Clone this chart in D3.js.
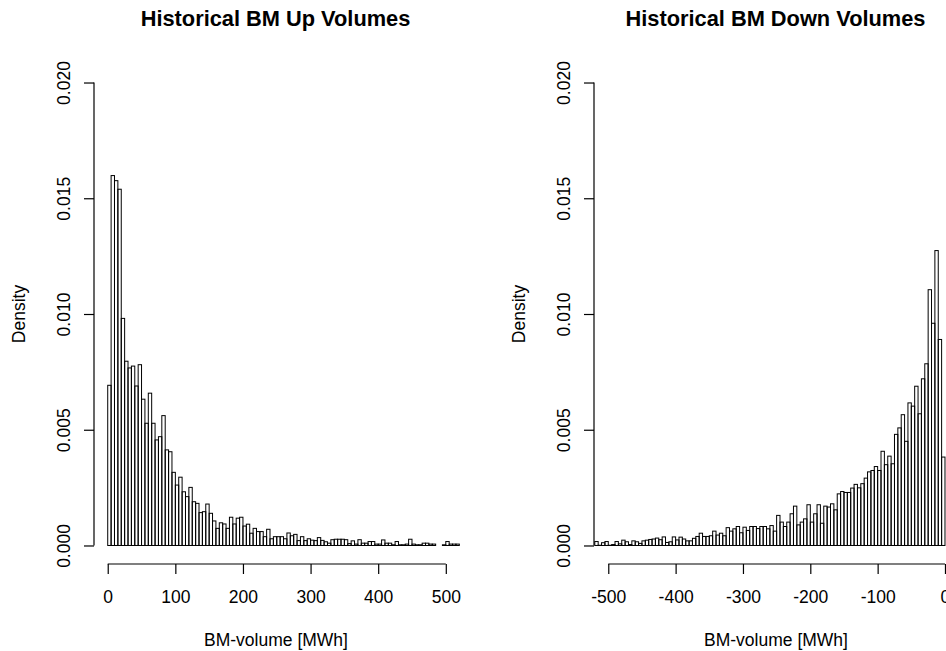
<!DOCTYPE html>
<html>
<head>
<meta charset="utf-8">
<script src="https://cdn.jsdelivr.net/npm/d3@7"></script>
<style>
  html, body { margin: 0; padding: 0; background: #fff; }
  svg { display: block; }
  text { font-family: "Liberation Sans", Arial, Helvetica, sans-serif; fill: #000; }
</style>
</head>
<body>
<svg id="chart" width="946" height="651"></svg>
<script>
// ---------------- data ----------------
const binWidth = 5;

// Up volumes: bins starting at 0 MWh, width 5
const upStart = 0;
const upDensity = [
  0.00692, 0.01598, 0.01576, 0.01539, 0.00981, 0.00796, 0.00767, 0.00775,
  0.00689, 0.00781, 0.00632, 0.00528, 0.00658, 0.00528, 0.00456, 0.00470,
  0.00561, 0.00413, 0.00405, 0.00316, 0.00261, 0.00295, 0.00232, 0.00211,
  0.00251, 0.00189, 0.00182, 0.00142, 0.00146, 0.00179, 0.00139, 0.00106,
  0.00074, 0.00098, 0.00093, 0.00074, 0.00122, 0.00093, 0.00118, 0.00122,
  0.00084, 0.00092, 0.00053, 0.00074, 0.00060, 0.00060, 0.00038, 0.00070,
  0.00029, 0.00038, 0.00038, 0.00038, 0.00029, 0.00054, 0.00042, 0.00048,
  0.00021, 0.00038, 0.00021, 0.00029, 0.00023, 0.00021, 0.00034, 0.00022,
  0.00016, 0.00010, 0.00025, 0.00027, 0.00027, 0.00027, 0.00025, 0.00008,
  0.00020, 0.00006, 0.00025, 0.00010, 0.00010, 0.00017, 0.00017, 0.00006,
  0.00006, 0.00024, 0.00010, 0.00010, 0.00003, 0.00017, 0.00003, 0.00003,
  0.00006, 0.00027, 0.00006, 0.00003, 0.00003, 0.00010, 0.00010, 0.00006,
  0.00006, 0.00000, 0.00000, 0.00003, 0.00017, 0.00006, 0.00006, 0.00006
];

// Down volumes: bins starting at -520 MWh, width 5
const downStart = -520;
const downDensity = [
  0.00017, 0.00001, 0.00012, 0.00017, 0.00001, 0.00004, 0.00017, 0.00007,
  0.00023, 0.00016, 0.00004, 0.00020, 0.00016, 0.00009, 0.00020, 0.00023,
  0.00026, 0.00028, 0.00032, 0.00025, 0.00037, 0.00013, 0.00016, 0.00037,
  0.00024, 0.00036, 0.00028, 0.00020, 0.00020, 0.00031, 0.00039, 0.00053,
  0.00039, 0.00039, 0.00042, 0.00062, 0.00045, 0.00053, 0.00042, 0.00077,
  0.00062, 0.00072, 0.00082, 0.00055, 0.00079, 0.00065, 0.00082, 0.00082,
  0.00073,
  0.00082, 0.00082, 0.00072, 0.00086, 0.00062, 0.00130, 0.00101, 0.00082,
  0.00101, 0.00137, 0.00170, 0.00089, 0.00101, 0.00115, 0.00176, 0.00101,
  0.00137, 0.00176, 0.00096, 0.00170, 0.00166, 0.00180, 0.00154, 0.00223,
  0.00233, 0.00229, 0.00229, 0.00248, 0.00264, 0.00249, 0.00267, 0.00291,
  0.00318, 0.00324, 0.00341, 0.00324, 0.00407, 0.00349, 0.00386, 0.00353,
  0.00480, 0.00508, 0.00565, 0.00450, 0.00616, 0.00602, 0.00688, 0.00569,
  0.00720, 0.00785, 0.01105, 0.00960, 0.01274, 0.00890, 0.00382
];

const yTicks = [0, 0.005, 0.010, 0.015, 0.020];
const upXTicks = [0, 100, 200, 300, 400, 500];
const downXTicks = [-500, -400, -300, -200, -100, 0];

const titles = ["Historical BM Up Volumes", "Historical BM Down Volumes"];
const xLabel = "BM-volume [MWh]";
const yLabel = "Density";

// ---------------- layout ----------------
const svg = d3.select("#chart");
svg.append("rect").attr("width", 946).attr("height", 651).attr("fill", "#fff");

const plotTop = 64, plotBottom = 564, plotW = 366;
const axisFont = 17.5, titleFont = 21.8;

const panels = [
  { left: 94,  start: upStart,   dens: upDensity,   xDomain: [-20.3, 521.0], xTicks: upXTicks,   title: titles[0] },
  { left: 594, start: downStart, dens: downDensity, xDomain: [-521.2, 22.3], xTicks: downXTicks, title: titles[1] }
];

const y = d3.scaleLinear().domain([-0.0008, 0.0208]).range([plotBottom, plotTop]);

panels.forEach((p, pi) => {
  const x = d3.scaleLinear().domain(p.xDomain).range([p.left, p.left + plotW]);
  const g = svg.append("g");

  const clipId = "clip" + pi;
  svg.append("clipPath").attr("id", clipId)
    .append("rect").attr("x", p.left).attr("y", plotTop)
    .attr("width", plotW).attr("height", plotBottom - plotTop);

  const bins = p.dens.map((d, i) => ({ x0: p.start + i * binWidth, x1: p.start + (i + 1) * binWidth, d }));

  g.append("g").attr("clip-path", `url(#${clipId})`)
    .selectAll("rect").data(bins).enter().append("rect")
    .attr("x", b => x(b.x0))
    .attr("width", b => x(b.x1) - x(b.x0))
    .attr("y", b => y(b.d))
    .attr("height", b => y(0) - y(b.d))
    .attr("fill", "none")
    .attr("stroke", "#000")
    .attr("stroke-width", 1);

  // x axis
  const xAxis = d3.axisBottom(x).tickValues(p.xTicks).tickSize(10).tickPadding(16.6)
    .tickFormat(d3.format("d"));
  const gx = g.append("g").attr("transform", `translate(0,${plotBottom})`).call(xAxis);
  gx.select(".domain").remove();
  gx.append("line")
    .attr("x1", x(p.xTicks[0])).attr("x2", x(p.xTicks[p.xTicks.length - 1]))
    .attr("y1", 0).attr("y2", 0).attr("stroke", "#000").attr("stroke-width", 1.2);
  gx.selectAll(".tick line").attr("stroke", "#000").attr("stroke-width", 1.2);
  gx.selectAll(".tick text").attr("font-size", axisFont).attr("font-family", null).attr("fill", "#000")
    .text(d => d3.format("d")(d).replace("−", "-"));

  // y axis
  const yAxis = d3.axisLeft(y).tickValues(yTicks).tickSize(10).tickFormat(d3.format(".3f"));
  const gy = g.append("g").attr("transform", `translate(${p.left},0)`).call(yAxis);
  gy.select(".domain").remove();
  gy.append("line")
    .attr("x1", 0).attr("x2", 0)
    .attr("y1", y(yTicks[0])).attr("y2", y(yTicks[yTicks.length - 1]))
    .attr("stroke", "#000").attr("stroke-width", 1.2);
  gy.selectAll(".tick line").attr("stroke", "#000").attr("stroke-width", 1.2);
  gy.selectAll(".tick text")
    .attr("font-size", axisFont).attr("font-family", null).attr("fill", "#000")
    .attr("x", 0).attr("dy", null).attr("y", -24)
    .attr("text-anchor", "middle")
    .attr("transform", "rotate(-90)");

  const cx = p.left + plotW / 2;
  // title
  g.append("text").attr("x", cx - 1.5).attr("y", 26)
    .attr("text-anchor", "middle").attr("font-size", titleFont).attr("font-weight", "bold")
    .text(p.title);
  // x label
  g.append("text").attr("x", cx - 1).attr("y", 646)
    .attr("text-anchor", "middle").attr("font-size", axisFont)
    .text(xLabel);
  // y label
  g.append("text")
    .attr("transform", `translate(${p.left - 69.5},${(plotTop + plotBottom) / 2}) rotate(-90)`)
    .attr("text-anchor", "middle").attr("font-size", axisFont)
    .text(yLabel);
});
</script>
</body>
</html>
